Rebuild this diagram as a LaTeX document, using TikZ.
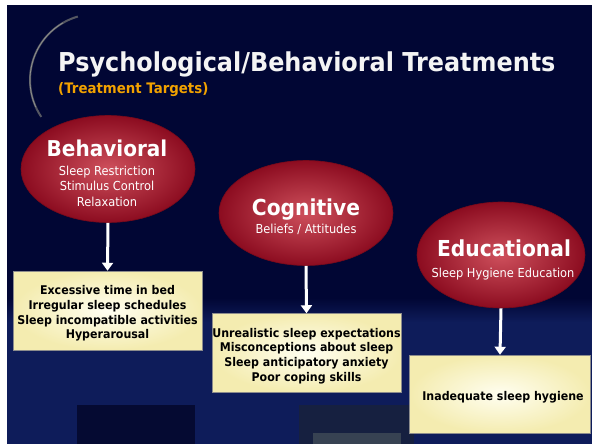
\documentclass[tikz,border=0pt]{standalone}
\usepackage{fontspec}
\setmainfont{DejaVu Sans}[FakeStretch=0.92]
\usetikzlibrary{shapes.geometric,arrows.meta}
\definecolor{navy}{HTML}{010634}
\definecolor{wall}{HTML}{0E1C5A}
\definecolor{gold}{HTML}{F2A200}
\definecolor{redin}{HTML}{CE505C}
\definecolor{redout}{HTML}{8C0C20}
\definecolor{boxin}{HTML}{FFFEF0}
\definecolor{boxout}{HTML}{F4ECB0}
\definecolor{window}{HTML}{050A32}
\definecolor{doorframe}{HTML}{162040}
\definecolor{doorlight}{HTML}{374252}
\definecolor{titlewhite}{HTML}{F4F4F4}
\definecolor{moon}{HTML}{9A9A88}
\tikzset{
  oval/.style={ellipse, inner sep=0pt, inner color=redin, outer color=redout,
    draw=redout!85!black, line width=0.6pt},
  target/.style={draw=black!45, line width=0.5pt, inner color=boxin, outer color=boxout, inner sep=0pt},
  targettxt/.style={align=center, text=black, inner sep=0pt,
    font=\bfseries\fontsize{12}{14.8}\selectfont},
  link/.style={draw=white, line width=3pt, -{Triangle[length=8pt,width=11pt]}},
  headtxt/.style={text=white, anchor=base, inner sep=0pt, font=\bfseries\fontsize{22}{26}\selectfont},
  subtxt/.style={text=white, anchor=base, inner sep=0pt, font=\fontsize{12.4}{15}\selectfont},
}
\begin{document}
\begin{tikzpicture}[x=1pt,y=-1pt]
\useasboundingbox (0,0) rectangle (592,444);
\fill[white] (0,0) rectangle (592,444);
\fill[navy] (7,5) rectangle (592,444);
% wall at the bottom
\shade[top color=navy, bottom color=wall] (7,298) rectangle (592,322);
\fill[wall] (7,322) rectangle (592,444);
\fill[window] (77,405) rectangle (195,444);
\fill[doorframe] (299,405) rectangle (414,444);
\fill[doorlight] (313,433) rectangle (401,444);
% moon crescent
\draw[moon, line width=2pt, opacity=0.55] (96,80) ++(146:66) arc[start angle=146, end angle=254, radius=66];
\draw[moon!70!white, line width=0.7pt, opacity=0.6] (96,80) ++(156:66) arc[start angle=156, end angle=240, radius=66];
% title
\node[text=titlewhite, anchor=base west, inner sep=0pt,
  font=\bfseries\fontsize{26}{30}\selectfont] (title) at (58,72) {Psychological/Behavioral Treatments};
\node[text=gold, anchor=base west, inner sep=0pt,
  font=\bfseries\fontsize{14.5}{18}\selectfont] (subtitle) at (58,93) {(Treatment Targets)};
% ellipses
\node[oval, minimum width=174pt, minimum height=107pt] (be) at (108,169) {};
\node[oval, minimum width=174pt, minimum height=105pt] (ce) at (306,213) {};
\node[oval, minimum width=168pt, minimum height=106pt] (ee) at (501,255) {};
\node[headtxt, font=\bfseries\fontsize{21.8}{26}\selectfont] (beh) at (107,156) {Behavioral};
\node[subtxt] (bes1) at (107,175) {Sleep Restriction};
\node[subtxt] (bes2) at (107,190.5) {Stimulus Control};
\node[subtxt] (bes3) at (107,206) {Relaxation};
\node[headtxt] (ceh) at (306,215) {Cognitive};
\node[subtxt] (ces1) at (306,233) {Beliefs / Attitudes};
\node[headtxt] (eeh) at (504,256) {Educational};
\node[subtxt] (ees1) at (503,277) {Sleep Hygiene Education};
% target boxes
\node[target, minimum width=189pt, minimum height=79pt] (bb) at (107.5,310.5) {};
\node[target, minimum width=189pt, minimum height=79pt] (cb) at (306.5,353) {};
\node[target, minimum width=181pt, minimum height=78pt] (eb) at (500,394) {};
\node[targettxt] (bbt) at (107.5,313.5)
  {Excessive time in bed\\Irregular sleep schedules\\Sleep incompatible activities\\Hyperarousal};
\node[targettxt] (cbt) at (306.5,356)
  {Unrealistic sleep expectations\\Misconceptions about sleep\\Sleep anticipatory anxiety\\Poor coping skills};
\node[targettxt] (ebt) at (503,397.5) {Inadequate sleep hygiene};
% arrows
\draw[link] (be.south) -- (bb.north);
\draw[link] (ce.south) -- (cb.north);
\draw[link] (ee.south) -- (eb.north);
\end{tikzpicture}
\end{document}
